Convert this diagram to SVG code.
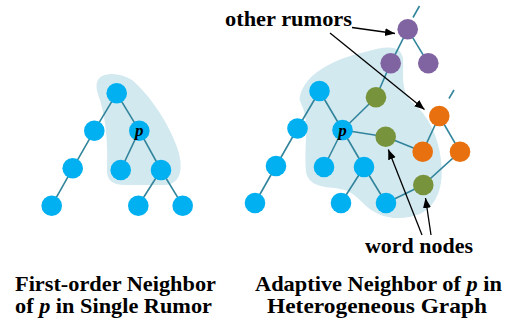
<svg xmlns="http://www.w3.org/2000/svg" width="514" height="321" viewBox="0 0 514 321">
  <style>
    .blob { fill: #d3e9f0; }
    .edge { stroke: #31849b; stroke-width: 1.6; fill: none; }
    .blue { fill: #00b0f0; }
    .purple { fill: #8064a2; }
    .green { fill: #77933c; }
    .orange { fill: #e8700e; }
    .pl { font-style: italic; font-size: 17px; text-anchor: middle; }
    .ptr { stroke: #000; stroke-width: 1.3; fill: none; marker-end: url(#head); }
  </style>
  <defs>
    <marker id="head" markerUnits="userSpaceOnUse" markerWidth="12" markerHeight="10" refX="10" refY="4" orient="auto">
      <path d="M0,0 L10,4 L0,8 Z" fill="#000"/>
    </marker>
  </defs>

  <!-- neighbourhood regions -->
  <path class="blob" d="M98,80 C102,72 120,72 132,80 C150,95 170,125 178,150 C184,170 180,184 165,185 L125,185 C112,185 106,180 107,168 C108,145 106,120 100,100 C97,92 95,85 98,80 Z"/>
  <path class="blob" d="M300,96 C305,75 330,60 365,52 C385,46 400,44 403,58 C404,75 400,90 412,102 C428,115 438,135 441,160 C444,185 438,205 420,214 C400,222 378,218 365,205 C355,195 350,190 335,188 C320,187 308,184 306,172 C304,150 308,130 305,115 C303,105 298,100 300,96 Z"/>

  <!-- connectors -->
  <g id="connectors">
    <!-- single rumor tree -->
    <line class="edge" x1="116.7" y1="93.3" x2="94.3" y2="130.7"/>
    <line class="edge" x1="116.7" y1="93.3" x2="139.3" y2="130.7"/>
    <line class="edge" x1="94.3" y1="130.7" x2="72.7" y2="168.3"/>
    <line class="edge" x1="72.7" y1="168.3" x2="51.7" y2="205.7"/>
    <line class="edge" x1="139.3" y1="130.7" x2="120.7" y2="170"/>
    <line class="edge" x1="139.3" y1="130.7" x2="161" y2="170"/>
    <line class="edge" x1="161" y1="170" x2="138.3" y2="205.7"/>
    <line class="edge" x1="161" y1="170" x2="182.7" y2="205.7"/>
    <!-- heterogeneous graph -->
    <line class="edge" x1="319.5" y1="91" x2="297.5" y2="128.5"/>
    <line class="edge" x1="319.5" y1="91" x2="342.5" y2="130"/>
    <line class="edge" x1="297.5" y1="128.5" x2="276" y2="166"/>
    <line class="edge" x1="276" y1="166" x2="255" y2="203"/>
    <line class="edge" x1="342.5" y1="130" x2="324" y2="167"/>
    <line class="edge" x1="342.5" y1="130" x2="364" y2="167"/>
    <line class="edge" x1="364" y1="167" x2="341" y2="203"/>
    <line class="edge" x1="364" y1="167" x2="386" y2="203"/>
    <line class="edge" x1="342.5" y1="130" x2="376" y2="97.3"/>
    <line class="edge" x1="376" y1="97.3" x2="390.7" y2="63.3"/>
    <line class="edge" x1="390.7" y1="63.3" x2="407.7" y2="29.3"/>
    <line class="edge" x1="407.7" y1="29.3" x2="428.3" y2="63.3"/>
    <line class="edge" x1="413" y1="17.5" x2="419.5" y2="6"/>
    <line class="edge" x1="342.5" y1="130" x2="385.7" y2="136.7"/>
    <line class="edge" x1="385.7" y1="136.7" x2="422.7" y2="151.7"/>
    <line class="edge" x1="422.7" y1="151.7" x2="439.3" y2="116"/>
    <line class="edge" x1="439.3" y1="116" x2="460" y2="151.7"/>
    <line class="edge" x1="449" y1="98.5" x2="454" y2="90"/>
    <line class="edge" x1="460" y1="151.7" x2="423.3" y2="185"/>
    <line class="edge" x1="423.3" y1="185" x2="386" y2="203"/>
    <!-- callout arrows -->
    <line class="ptr" x1="352" y1="27.5" x2="395" y2="33.5"/>
    <line class="ptr" x1="330" y1="33" x2="424.5" y2="109.5"/>
    <line class="ptr" x1="422" y1="235" x2="388.3" y2="149.5"/>
    <line class="ptr" x1="431" y1="235" x2="425.5" y2="198"/>
  </g>

  <!-- single rumor tree nodes -->
  <g id="l-root"><circle class="blue" cx="116.7" cy="93.3" r="10.3"/></g>
  <g id="l-a"><circle class="blue" cx="94.3" cy="130.7" r="10.3"/></g>
  <g id="l-p"><circle class="blue" cx="139.3" cy="130.7" r="10.3"/><text class="pl" x="139.3" y="136" font-family="Liberation Serif, Times New Roman, serif" font-weight="bold">p</text></g>
  <g id="l-aa"><circle class="blue" cx="72.7" cy="168.3" r="10.3"/></g>
  <g id="l-pa"><circle class="blue" cx="120.7" cy="170" r="10.3"/></g>
  <g id="l-pb"><circle class="blue" cx="161" cy="170" r="10.3"/></g>
  <g id="l-aaa"><circle class="blue" cx="51.7" cy="205.7" r="10.3"/></g>
  <g id="l-pba"><circle class="blue" cx="138.3" cy="205.7" r="10.3"/></g>
  <g id="l-pbb"><circle class="blue" cx="182.7" cy="205.7" r="10.3"/></g>

  <!-- heterogeneous graph nodes -->
  <g id="r-root"><circle class="blue" cx="319.5" cy="91" r="10.3"/></g>
  <g id="r-a"><circle class="blue" cx="297.5" cy="128.5" r="10.3"/></g>
  <g id="r-p"><circle class="blue" cx="342.5" cy="130" r="10.3"/><text class="pl" x="342.5" y="135.5" font-family="Liberation Serif, Times New Roman, serif" font-weight="bold">p</text></g>
  <g id="r-aa"><circle class="blue" cx="276" cy="166" r="10.3"/></g>
  <g id="r-aaa"><circle class="blue" cx="255" cy="203" r="10.3"/></g>
  <g id="r-pa"><circle class="blue" cx="324" cy="167" r="10.3"/></g>
  <g id="r-pb"><circle class="blue" cx="364" cy="167" r="10.3"/></g>
  <g id="r-pba"><circle class="blue" cx="341" cy="203" r="10.3"/></g>
  <g id="r-pbb"><circle class="blue" cx="386" cy="203" r="10.3"/></g>
  <g id="word-1"><circle class="green" cx="376" cy="97.3" r="10.3"/></g>
  <g id="word-2"><circle class="green" cx="385.7" cy="136.7" r="10.3"/></g>
  <g id="word-3"><circle class="green" cx="423.3" cy="185" r="10.3"/></g>
  <g id="rumor2-root"><circle class="purple" cx="407.7" cy="29.3" r="10.3"/></g>
  <g id="rumor2-a"><circle class="purple" cx="390.7" cy="63.3" r="10.3"/></g>
  <g id="rumor2-b"><circle class="purple" cx="428.3" cy="63.3" r="10.3"/></g>
  <g id="rumor3-root"><circle class="orange" cx="439.3" cy="116" r="10.3"/></g>
  <g id="rumor3-a"><circle class="orange" cx="422.7" cy="151.7" r="10.3"/></g>
  <g id="rumor3-b"><circle class="orange" cx="460" cy="151.7" r="10.3"/></g>

  <!-- labels -->
  <g id="labels" font-family="Liberation Serif, Times New Roman, serif" font-weight="bold" fill="#000">
    <text x="225" y="26" font-size="20" textLength="127" lengthAdjust="spacingAndGlyphs">other rumors</text>
    <text x="365" y="253" font-size="20" textLength="108" lengthAdjust="spacingAndGlyphs">word nodes</text>
    <text x="15" y="291" font-size="21" textLength="201" lengthAdjust="spacingAndGlyphs">First-order Neighbor</text>
    <text x="15" y="313" font-size="21" textLength="197" lengthAdjust="spacingAndGlyphs">of <tspan font-style="italic">p</tspan> in Single Rumor</text>
    <text x="255" y="291" font-size="21" textLength="247" lengthAdjust="spacingAndGlyphs">Adaptive Neighbor of <tspan font-style="italic">p</tspan> in</text>
    <text x="267" y="313" font-size="21" textLength="220" lengthAdjust="spacingAndGlyphs">Heterogeneous Graph</text>
  </g>
</svg>
